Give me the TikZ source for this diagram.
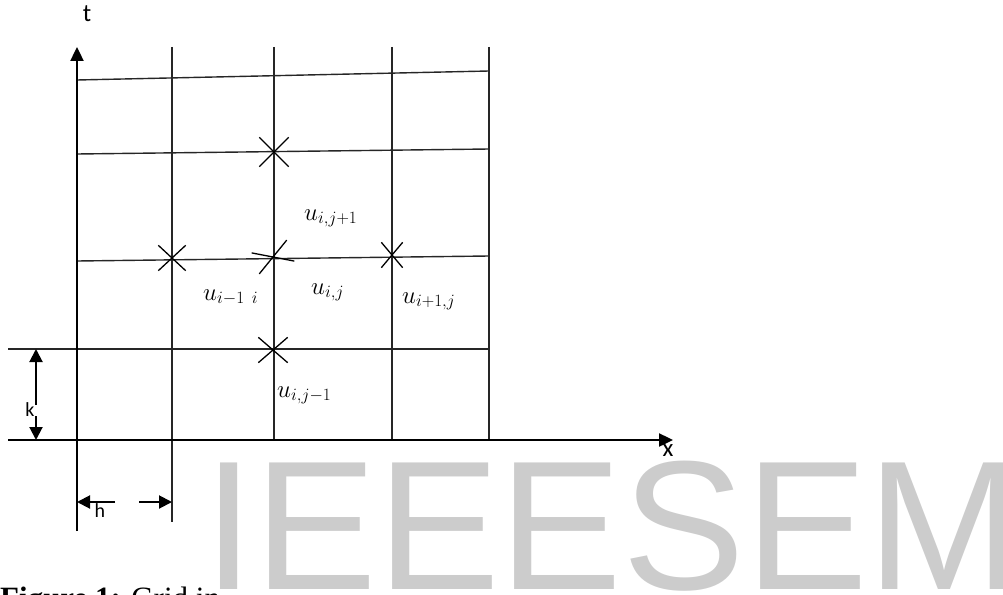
\documentclass[tikz,border=0pt]{standalone}
\usepackage{fontspec}
\setmainfont{Liberation Serif}
\newfontfamily\axisfont{Carlito}
\newfontfamily\markfont{Liberation Sans}
\usetikzlibrary{arrows.meta,shapes.misc,positioning}

\begin{document}
\begin{tikzpicture}[x=1pt, y=-1pt,
  gridline/.style={line width=1.4pt, black!85},
  axis/.style={line width=2.4pt, -{Triangle[length=14pt,width=13pt]}},
  dim/.style={line width=2pt, -{Triangle[length=13pt,width=13pt]}},
  xmark/.style={draw, cross out, inner sep=0pt, line width=1.3pt},
  ulabel/.style={anchor=base west, inner sep=0pt, font=\fontsize{25}{30}\selectfont},
  alabel/.style={inner sep=0pt, font=\axisfont\fontsize{25}{30}\selectfont}]

\useasboundingbox (0,0) rectangle (1003,594);
\clip (0,0) rectangle (1003,594);

% caption and watermark
\node[anchor=base west, inner sep=0pt, font=\fontsize{31}{36}\selectfont] (cap) at (0,608) {\textbf{Figure 1:} Grid in};
\node[anchor=base west, inner sep=0pt, text=black!20, font=\markfont\fontsize{184}{184}\selectfont] (wm) at (203,589) {IEEESEM};

% grid lines
\foreach \xx/\yb [count=\n] in {172/522, 274/440, 392/440, 489/440} {
  \coordinate (v\n top) at (\xx,47);
  \coordinate (v\n bot) at (\xx,\yb);
  \draw[gridline] (v\n top) -- (v\n bot);
}
\foreach \xa/\ya/\yb [count=\n] in {77/80/71, 77/154/149, 77/261/256, 8/349/349} {
  \coordinate (h\n left) at (\xa,\ya);
  \coordinate (h\n right) at (489,\yb);
  \draw[gridline] (h\n left) -- (h\n right);
}

% axes
\coordinate (tbot) at (77,531);
\coordinate (ttop) at (77,47);
\coordinate (xleft) at (8,440);
\coordinate (xright) at (673,440);
\draw[axis] (tbot) -- (ttop);
\draw[axis] (xleft) -- (xright);
\node[alabel] (t) at (87,14) {t};
\node[alabel] (x) at (668,451) {x};

% stencil points
\node[xmark, minimum width=28pt, minimum height=28pt] (up) at (274,152) {};
\node[xmark, minimum width=26pt, minimum height=24pt] (left) at (172,258) {};
\node[xmark, minimum width=36pt, minimum height=21pt, rotate=20] (mid) at (273,257) {};
\node[xmark, minimum width=20pt, minimum height=24pt] (right) at (392,255) {};
\node[xmark, minimum width=28pt, minimum height=24pt] (down) at (273,350) {};

% labels
\node[ulabel] (uup) at (304,220) {$u_{i,j+1}$};
\node[ulabel] (uleft) at (203,300) {$u_{i-1\;\,i}$};
\node[ulabel] (umid) at (311,294) {$u_{i,j}$};
\node[ulabel] (uright) at (402,303) {$u_{i+1,j}$};
\node[ulabel] (udown) at (277,397) {$u_{i,j-1}$};

% step k
\node[alabel, font=\axisfont\fontsize{20}{24}\selectfont] (k) at (30,410) {k};
\coordinate (ktop) at (36,349);
\coordinate (kbot) at (36,440);
\draw[dim] (36,405) -- (ktop);
\draw[dim] (36,416) -- (kbot);

% step h
\node[alabel, font=\axisfont\fontsize{20}{24}\selectfont] (h) at (100,511) {h};
\coordinate (hleft) at (77,502);
\coordinate (hright) at (172,502);
\draw[dim] (115,502) -- (hleft);
\draw[dim] (139,502) -- (hright);

\end{tikzpicture}
\end{document}
